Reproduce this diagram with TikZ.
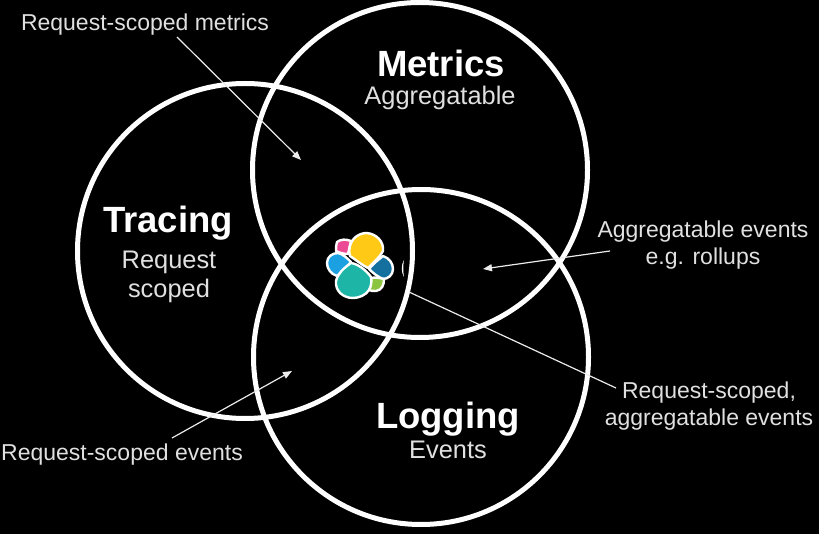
\documentclass[tikz,border=0pt]{standalone}
\usepackage{fontspec}
\setmainfont{Liberation Sans}
\usetikzlibrary{positioning,arrows.meta}
\definecolor{logopink}{HTML}{EC4A94}
\definecolor{logoyellow}{HTML}{FFC915}
\definecolor{logoblue}{HTML}{1BA1E2}
\definecolor{logonavy}{HTML}{13709F}
\definecolor{logoteal}{HTML}{1CB5A6}
\definecolor{logogreen}{HTML}{8CC53F}
\tikzset{
    ring/.style={draw=white, line width=5pt, circle, minimum size=335pt, inner sep=0pt},
    title/.style={text=white, font=\fontsize{36.5}{40}\selectfont\bfseries, inner sep=0pt},
    sublabel/.style={text=white!88!black, font=\fontsize{25.4}{29}\selectfont, align=center, inner sep=0pt},
    note/.style={text=white!88!black, font=\fontsize{23}{26.5}\selectfont, align=center, inner sep=0pt},
    pointer/.style={draw=white!92!black, line width=1.2pt, -{Triangle[length=9pt,width=7pt]}},
    petal/.style={draw=white, line width=2.4pt, line join=round}
}
\begin{document}
\begin{tikzpicture}[x=1pt,y=-1pt]
    \useasboundingbox[fill=black] (0,0) rectangle (819,534);
    \node[ring] (tracing) at (245,251) {};
    \node[ring] (metrics) at (420,170) {};
    \node[ring] (logging) at (421,357) {};
    % labels
    \node[title] (tracingtitle) at (168,223) {Tracing};
    \node[sublabel] (tracingsub) at (169,277) {Request\\scoped};
    \node[title] (metricstitle) at (441,63) {Metrics};
    \node[sublabel] (metricssub) at (440,98) {Aggregatable};
    \node[title] (loggingtitle) at (448,419) {Logging};
    \node[sublabel] (loggingsub) at (448,450) {Events};
    % notes
    \node[note] (notemetrics) at (145,25) {Request-scoped metrics};
    \node[note] (noteaggr) at (703,245) {Aggregatable events\\e.g. rollups};
    \node[note] (noteboth) at (709,406) {Request-scoped,\\aggregatable events};
    \node[note] (noteevents) at (122,455) {Request-scoped events};
    % pointers
    \coordinate (startmetrics) at (177,37);
    \coordinate (endmetrics) at (301,160);
    \coordinate (startaggr) at (610,251);
    \coordinate (endaggr) at (483,269);
    \coordinate (startboth) at (409,292);
    \coordinate (endboth) at (616,388);
    \coordinate (startevents) at (172,438);
    \coordinate (endevents) at (292,371);
    \draw[pointer] (startmetrics) -- (endmetrics);
    \draw[pointer] (startaggr) -- (endaggr);
    \draw[pointer] (startevents) -- (endevents);
    \draw[draw=white!92!black, line width=1.2pt] (startboth) -- (endboth);
    % stray mark beside the logo
    \fill[white] (404,260) .. controls (401,265) and (401,272) .. (404,277) .. controls (403,271) and (403,266) .. (404,260) -- cycle;
    % logo
    \draw[petal, fill=logopink] (337,242) .. controls (341,239) and (346,239) .. (351,241) .. controls (350,245) and (349,250) .. (348,254) .. controls (344,254) and (340,253) .. (336,251) .. controls (336,248) and (336,245) .. (337,242) -- cycle;
    \draw[petal, fill=logoblue] (327,263) .. controls (327,257) and (332,253) .. (338,253) .. controls (343,254) and (347,258) .. (351,262) .. controls (347,267) and (342,271) .. (337,276) .. controls (331,274) and (327,269) .. (327,263) -- cycle;
    \draw[petal, fill=logonavy] (369,269) .. controls (373,264) and (378,260) .. (383,256) .. controls (389,258) and (393,263) .. (393,269) .. controls (393,275) and (388,279) .. (383,279) .. controls (378,277) and (373,273) .. (369,269) -- cycle;
    \draw[petal, fill=logogreen] (371,278) .. controls (375,277) and (380,278) .. (384,279) .. controls (384,285) and (382,290) .. (376,291) .. controls (373,291) and (371,291) .. (369,290) .. controls (371,286) and (371,282) .. (371,278) -- cycle;
    \draw[petal, fill=logoyellow] (350,246) .. controls (352,238) and (359,233) .. (367,233) .. controls (376,234) and (384,241) .. (383,251) .. controls (380,257) and (374,262) .. (368,268) .. controls (362,265) and (356,260) .. (350,256) .. controls (349,252) and (349,249) .. (350,246) -- cycle;
    \draw[petal, fill=logoteal] (336,281) .. controls (338,273) and (344,268) .. (351,263) .. controls (358,264) and (366,270) .. (371,277) .. controls (372,282) and (371,286) .. (369,290) .. controls (366,295) and (359,298) .. (353,298) .. controls (343,298) and (335,291) .. (336,281) -- cycle;
\end{tikzpicture}
\end{document}
